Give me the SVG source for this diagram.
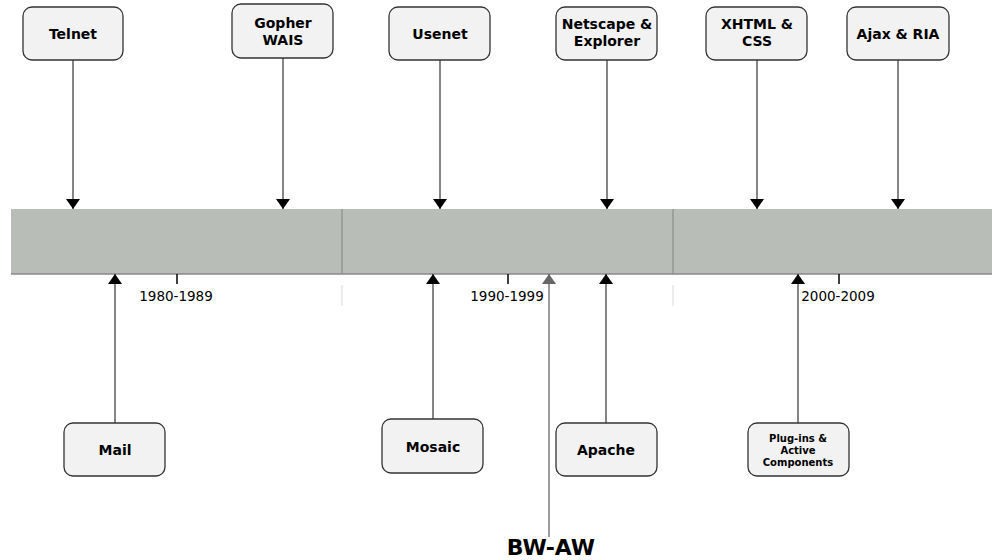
<svg xmlns="http://www.w3.org/2000/svg" width="992" height="560" viewBox="0 0 992 560">
<defs>
<style>
.box{fill:#f2f2f2;stroke:#333;stroke-width:1.3}
.t{font-family:"DejaVu Sans",Verdana,sans-serif;font-weight:bold;font-size:14px;text-anchor:middle;fill:#000}
.s{font-family:"DejaVu Sans",Verdana,sans-serif;font-weight:bold;font-size:10px;text-anchor:middle;fill:#000}
.y{font-family:"DejaVu Sans",Verdana,sans-serif;font-size:13.5px;text-anchor:middle;fill:#000}
.c{stroke:#444;stroke-width:1.3;fill:none}
.tick{stroke:#000;stroke-width:1.5}
</style>
<marker id="ah" viewBox="0 0 10 14" refX="10" refY="7" markerWidth="10" markerHeight="14" markerUnits="userSpaceOnUse" orient="auto">
<path d="M0,0 L10,7 L0,14 Z" fill="#000"/>
</marker>
<marker id="ahg" viewBox="0 0 10 14" refX="10" refY="7" markerWidth="10" markerHeight="14" markerUnits="userSpaceOnUse" orient="auto">
<path d="M0,0 L10,7 L0,14 Z" fill="#666"/>
</marker>
</defs>
<rect width="992" height="560" fill="#fff"/>
<g id="timeline">
<rect x="11" y="209" width="981" height="65" fill="#b8bdb7"/>
<line x1="11" y1="274" x2="992" y2="274" stroke="#888" stroke-width="1.3"/>
<line x1="342" y1="209" x2="342" y2="274" stroke="#8e928d" stroke-width="1.3"/>
<line x1="673" y1="209" x2="673" y2="274" stroke="#8e928d" stroke-width="1.3"/>
<line x1="342" y1="285" x2="342" y2="306" stroke="#e2e2e2" stroke-width="1.3"/>
<line x1="673" y1="285" x2="673" y2="306" stroke="#e2e2e2" stroke-width="1.3"/>
<line class="tick" x1="177" y1="274" x2="177" y2="284"/>
<line class="tick" x1="508" y1="274" x2="508" y2="284"/>
<line class="tick" x1="839" y1="274" x2="839" y2="284"/>
<text class="y" x="176" y="301">1980-1989</text>
<text class="y" x="507" y="301">1990-1999</text>
<text class="y" x="838" y="301">2000-2009</text>
</g>
<g id="connectors">
<line class="c" x1="73" y1="60" x2="73" y2="209" marker-end="url(#ah)"/>
<line class="c" x1="283" y1="58" x2="283" y2="209" marker-end="url(#ah)"/>
<line class="c" x1="440" y1="60" x2="440" y2="209" marker-end="url(#ah)"/>
<line class="c" x1="607" y1="60" x2="607" y2="209" marker-end="url(#ah)"/>
<line class="c" x1="757" y1="60" x2="757" y2="209" marker-end="url(#ah)"/>
<line class="c" x1="898" y1="60" x2="898" y2="209" marker-end="url(#ah)"/>
<line class="c" x1="115" y1="423" x2="115" y2="274" marker-end="url(#ah)"/>
<line class="c" x1="433" y1="419" x2="433" y2="274" marker-end="url(#ah)"/>
<line class="c" x1="606" y1="423" x2="606" y2="274" marker-end="url(#ah)"/>
<line class="c" x1="798" y1="423" x2="798" y2="274" marker-end="url(#ah)"/>
<line x1="549" y1="537" x2="549" y2="274" stroke="#666" stroke-width="1.3" marker-end="url(#ahg)"/>
</g>
<g id="telnet"><rect class="box" x="23" y="7" width="100" height="53" rx="9"/><text class="t" x="73" y="39">Telnet</text></g>
<g id="gopher"><rect class="box" x="232" y="4" width="101" height="54" rx="9"/><text class="t" x="283" y="28">Gopher</text><text class="t" x="283" y="45">WAIS</text></g>
<g id="usenet"><rect class="box" x="389" y="7" width="101" height="53" rx="9"/><text class="t" x="440" y="39">Usenet</text></g>
<g id="netscape"><rect class="box" x="556" y="7" width="101" height="53" rx="9"/><text class="t" x="607" y="29">Netscape &amp;</text><text class="t" x="607" y="46">Explorer</text></g>
<g id="xhtml"><rect class="box" x="706" y="7" width="101" height="53" rx="9"/><text class="t" x="757" y="29">XHTML &amp;</text><text class="t" x="757" y="46">CSS</text></g>
<g id="ajax"><rect class="box" x="847" y="7" width="102" height="53" rx="9"/><text class="t" x="898" y="39">Ajax &amp; RIA</text></g>
<g id="mail"><rect class="box" x="64" y="423" width="101" height="53" rx="9"/><text class="t" x="115" y="455">Mail</text></g>
<g id="mosaic"><rect class="box" x="382" y="419" width="101" height="54" rx="9"/><text class="t" x="433" y="452">Mosaic</text></g>
<g id="apache"><rect class="box" x="556" y="423" width="101" height="53" rx="9"/><text class="t" x="606" y="455">Apache</text></g>
<g id="plugins"><rect class="box" x="748" y="423" width="101" height="53" rx="9"/><text class="s" x="798" y="442">Plug-ins &amp;</text><text class="s" x="798" y="454">Active</text><text class="s" x="798" y="466">Components</text></g>
<g id="bwaw"><text x="551" y="555" font-family="DejaVu Sans,Verdana,sans-serif" font-weight="bold" font-size="22" text-anchor="middle" fill="#000">BW-AW</text></g>
</svg>
